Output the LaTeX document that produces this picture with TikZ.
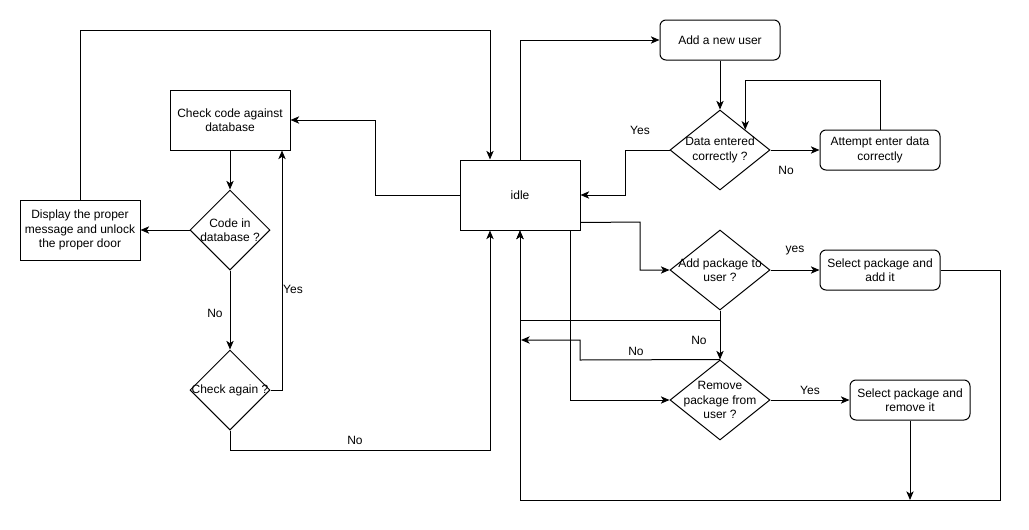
\documentclass[tikz,border=0pt]{standalone}
\usepackage{fontspec}
\setmainfont{Liberation Sans}
\usetikzlibrary{shapes.geometric,arrows.meta,calc}
\begin{document}
\begin{tikzpicture}[x=0.75pt,y=-0.75pt,
  font=\fontsize{9}{10.8}\selectfont,
  line width=0.75pt,
  arr/.style={-{Stealth[length=6.5pt,width=5.5pt,inset=1.8pt]}},
  box/.style={draw, fill=white, minimum width=90pt, minimum height=45pt, inner sep=0pt, align=center},
  rbox/.style={box, rounded corners=4.5pt, minimum height=30pt},
  dia/.style={draw, diamond, inner sep=0pt, minimum width=75pt, minimum height=60pt},
  txt/.style={align=center, inner sep=0pt},
  lbl/.style={inner sep=0pt}]
\useasboundingbox (0,0) rectangle (1029,529);

% process boxes
\node[box] (check) at (230,120) {Check code against\\database};
\node[box] (disp) at (80,230) {Display the proper\\message and unlock\\the proper door};
\node[box, minimum height=52.5pt] (idle) at (520,195) {idle};
\node[rbox] (newu) at (720,40) {Add a new user};
\node[rbox] (att) at (880,150) {Attempt enter data\\correctly};
\node[rbox] (seladd) at (880,270) {Select package and\\add it};
\node[rbox] (selrem) at (910,400) {Select package and\\remove it};

% decisions
\node[dia, minimum width=60pt] (code) at (230,230) {};
\node[dia, minimum width=60pt] (again) at (230,390) {};
\node[dia] (data) at (720,150) {};
\node[dia] (addp) at (720,270) {};
\node[dia] (remp) at (720,400) {};
\node[txt] (codet) at (code) {Code in\\database ?};
\node[txt] (againt) at (again) {Check again ?};
\node[txt] (datat) at (data) {Data entered\\correctly ?};
\node[txt] (addpt) at (addp) {Add package to\\user ?};
\node[txt] (rempt) at (remp) {Remove\\package from\\user ?};

% free ends
\coordinate (ret) at (521,340);
\coordinate (bot) at (910,500);

% connectors
\draw[arr] (disp.north) -- (80,30) -| ($(idle.north)+(-30,0)$);
\draw[arr] (idle.north) |- (newu.west);
\draw[arr] (newu.south) -- (data.north);
\draw[arr] (data.west) -- (625,150) |- (idle.east);
\draw[arr] (data.east) -- (att.west);
\draw[arr] (att.north) -- (880,80) -| (data.north east);
\draw[arr] (idle.west) -- (375,195) |- (check.east);
\draw[arr] (check.south) -- (code.north);
\draw[arr] (code.west) -- (disp.east);
\draw[arr] (code.south) -- (again.north);
\draw[arr] (again.east) -| ($(check.south)+(52,0)$);
\draw[arr] (again.south) -- (230,450) -| ($(idle.south)+(-30,0)$);
\draw[arr] ($(idle.south east)+(0,-8)$) -- (640,222) |- (addp.west);
\draw[arr] (addp.east) -- (seladd.west);
\draw[arr] (seladd.east) -- (1000,270) -- (1000,500) -| (idle.south);
\draw[arr] (addp.south) -- (720,320) -| (idle.south);
\draw[arr] (addp.south) -- (remp.north);
\draw[arr] (remp.north) -- (580,360) -- (580,340) -- (ret);
\draw[arr] ($(idle.south)+(50,0)$) |- (remp.west);
\draw[arr] (remp.east) -- (selrem.west);
\draw[arr] (selrem.south) -- (bot);

% connector labels
\node[lbl] (l1) at (640,130) {Yes};
\node[lbl] (l2) at (786,170) {No};
\node[lbl] (l3) at (215,313) {No};
\node[lbl] (l4) at (293,289) {Yes};
\node[lbl] (l5) at (355,440) {No};
\node[lbl] (l6) at (795,251) {yes};
\node[lbl] (l7) at (810,390) {Yes};
\node[lbl] (l8) at (699,340) {No};
\node[lbl] (l9) at (636,351) {No};
\end{tikzpicture}
\end{document}
